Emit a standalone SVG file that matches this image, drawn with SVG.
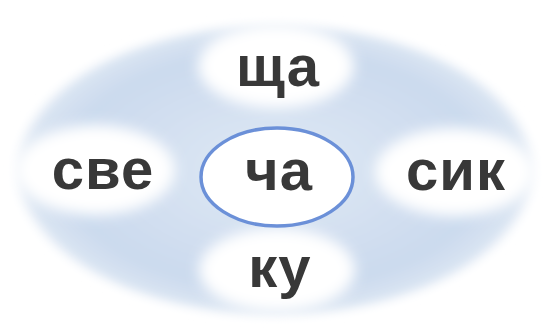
<svg xmlns="http://www.w3.org/2000/svg" width="547" height="334" viewBox="0 0 547 334">
<defs>
<radialGradient id="bg" cx="0.5" cy="0.5" r="0.5">
<stop offset="0" stop-color="#e0e9f5"/>
<stop offset="0.8" stop-color="#cbdaee"/>
<stop offset="0.95" stop-color="#d9e4f2"/>
<stop offset="1" stop-color="#ffffff"/>
</radialGradient>
<filter id="blur" x="-30%" y="-30%" width="160%" height="160%"><feGaussianBlur stdDeviation="7"/></filter>
<filter id="blur2" x="-10%" y="-10%" width="120%" height="120%"><feGaussianBlur stdDeviation="4"/></filter>
<style>
.w{fill:#ffffff;filter:url(#blur)}
.t{font-family:"Liberation Sans",Arial,sans-serif;font-weight:bold;font-size:58px;fill:#383838;text-anchor:middle;letter-spacing:1px}
</style>
</defs>
<rect width="547" height="334" fill="#ffffff"/>
<ellipse cx="275" cy="170" rx="262" ry="148" fill="url(#bg)" filter="url(#blur2)"/>
<g id="connectors"></g>
<g id="top"><ellipse class="w" cx="276" cy="66" rx="78" ry="42"/><text class="t" x="278" y="86">ща</text></g>
<g id="left"><ellipse class="w" cx="95" cy="170" rx="80" ry="45"/><text class="t" x="103" y="189">све</text></g>
<g id="right"><ellipse class="w" cx="455" cy="172" rx="80" ry="44"/><text class="t" x="456" y="190">сик</text></g>
<g id="bottom"><ellipse class="w" cx="277" cy="270" rx="78" ry="42"/><text class="t" x="280" y="287">ку</text></g>
<g id="center"><ellipse cx="277" cy="177" rx="76" ry="49" fill="#ffffff" stroke="#6b90d8" stroke-width="3.5"/><text class="t" x="279" y="190">ча</text></g>
</svg>
